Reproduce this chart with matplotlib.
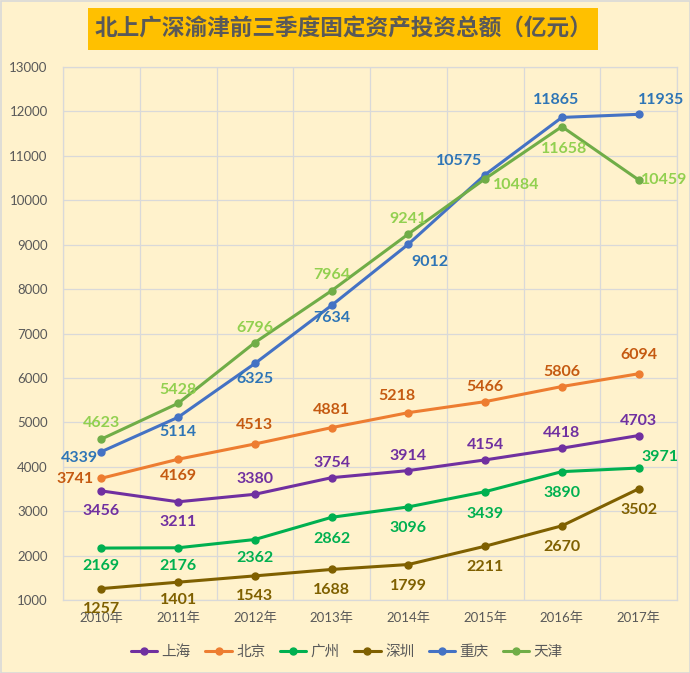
import matplotlib
matplotlib.use("Agg")
import matplotlib.pyplot as plt
from matplotlib.patches import Rectangle
import numpy as np

years = ["2010年", "2011年", "2012年", "2013年", "2014年", "2015年", "2016年", "2017年"]
cities = ["上海", "北京", "广州", "深圳", "重庆", "天津"]
shanghai = [3456, 3211, 3380, 3754, 3914, 4154, 4418, 4703]
beijing = [3741, 4169, 4513, 4881, 5218, 5466, 5806, 6094]
guangzhou = [2169, 2176, 2362, 2862, 3096, 3439, 3890, 3971]
shenzhen = [1257, 1401, 1543, 1688, 1799, 2211, 2670, 3502]
chongqing = [4339, 5114, 6325, 7634, 9012, 10575, 11865, 11935]
tianjin = [4623, 5428, 6796, 7964, 9241, 10484, 11658, 10459]
title = "北上广深渝津前三季度固定资产投资总额（亿元）"

series = [shanghai, beijing, guangzhou, shenzhen, chongqing, tianjin]
line_colors = ["#7030A0", "#ED7D31", "#00B050", "#7F6000", "#4472C4", "#70AD47"]
label_colors = ["#7030A0", "#C55A11", "#00B050", "#7F6000", "#2E75B6", "#92D050"]

# label placement (pixel offsets dx, dy(down positive), ha)
A = (0, -15, "center")
B = (0, 20, "center")
placements = [
    [B, B, A, A, A, A, A, A],
    [(-8, 1, "right"), (0, 17, "center"), (0, -19, "center"), (0, -18, "center"),
     (-11, -17, "center"), A, A, (0, -19, "center")],
    [(0, 18, "center"), (0, 18, "center"), (0, 18, "center"), (0, 22, "center"),
     (0, 21, "center"), (0, 22, "center"), (0, 21, "center"), (3, -11, "left")],
    [B, (0, 18, "center"), (0, 20, "center"), (0, 21, "center"), (0, 21, "center"),
     (0, 21, "center"), (0, 21, "center"), (0, 21, "center")],
    [(-3, 6, "right"), (0, 15, "center"), (0, 16, "center"), (0, 13, "center"),
     (22, 18, "center"), (-26, -14, "center"), (-6, -17, "center"), (22, -14, "center")],
    [(0, -16, "center"), (0, -13, "center"), A, (0, -16, "center"), A,
     (8, 6, "left"), (2, 22, "center"), (2, 0, "left")],
]

bg = "#FFF2CC"
grid_c = "#D9D9D9"
txt_c = "#595959"

fig = plt.figure(figsize=(6.9, 6.73), dpi=100, facecolor=bg)
ax = fig.add_axes([63/690, 1-600/673, (677-63)/690, (600-67)/673])
ax.set_facecolor(bg)

x = np.arange(len(years))
for i, (name, vals) in enumerate(zip(cities, series)):
    ax.plot(x, vals, color=line_colors[i], lw=2.2, marker="o", markersize=5,
            label=name, zorder=3 + i, solid_capstyle="round")
    for j, v in enumerate(vals):
        dx, dy, ha = placements[i][j]
        ax.annotate(str(v), (x[j], v), xytext=(dx*0.72, -dy*0.72),
                    textcoords="offset points", ha=ha, va="center",
                    fontsize=11.5, fontweight="bold", family="Lato",
                    color=label_colors[i], zorder=20)

ax.set_xlim(-0.5, 7.5)
ax.set_ylim(1000, 13000)
ax.set_yticks(np.arange(1000, 13001, 1000))
ax.set_xticks(x)
ax.set_xticklabels(years, family=["Lato", "Noto Sans CJK SC"], fontsize=9.5, color=txt_c)
for lab in ax.get_yticklabels():
    lab.set_family("Lato")
    lab.set_fontsize(9.5)
    lab.set_color(txt_c)
ax.tick_params(axis="both", length=0)
ax.tick_params(axis="y", pad=11)
ax.tick_params(axis="x", pad=8)
ax.set_xticks(np.arange(-0.5, 8, 1), minor=True)
ax.tick_params(axis="x", which="minor", length=0)
ax.grid(axis="y", which="major", color=grid_c, lw=0.9)
ax.grid(axis="x", which="minor", color=grid_c, lw=0.9)
for s in ax.spines.values():
    s.set_color(grid_c)
    s.set_linewidth(0.9)

# title box
fig.patches.append(Rectangle((88/690, 1-50/673), (598-88)/690, 42/673,
                             transform=fig.transFigure, facecolor="#FFC000",
                             edgecolor="none", zorder=0))
fig.text(343/690, 1-29/673, title, ha="center", va="center", fontsize=16.3,
         fontweight="bold", family="Noto Sans CJK SC", color=txt_c)

# figure border
fig.patches.append(Rectangle((0.5/690, 0.5/673), 689/690, 672/673, transform=fig.transFigure,
                             facecolor="none", edgecolor="#D9D9D9", lw=1.2))

leg = fig.legend(loc="center", bbox_to_anchor=(347/690, 1-652/673), ncol=6,
                 frameon=False, prop={"family": "Noto Sans CJK SC", "size": 10.5},
                 handlelength=1.8, handletextpad=0.3, columnspacing=1.0,
                 labelcolor=txt_c)

fig.savefig("out.png", dpi=100, facecolor=bg)
